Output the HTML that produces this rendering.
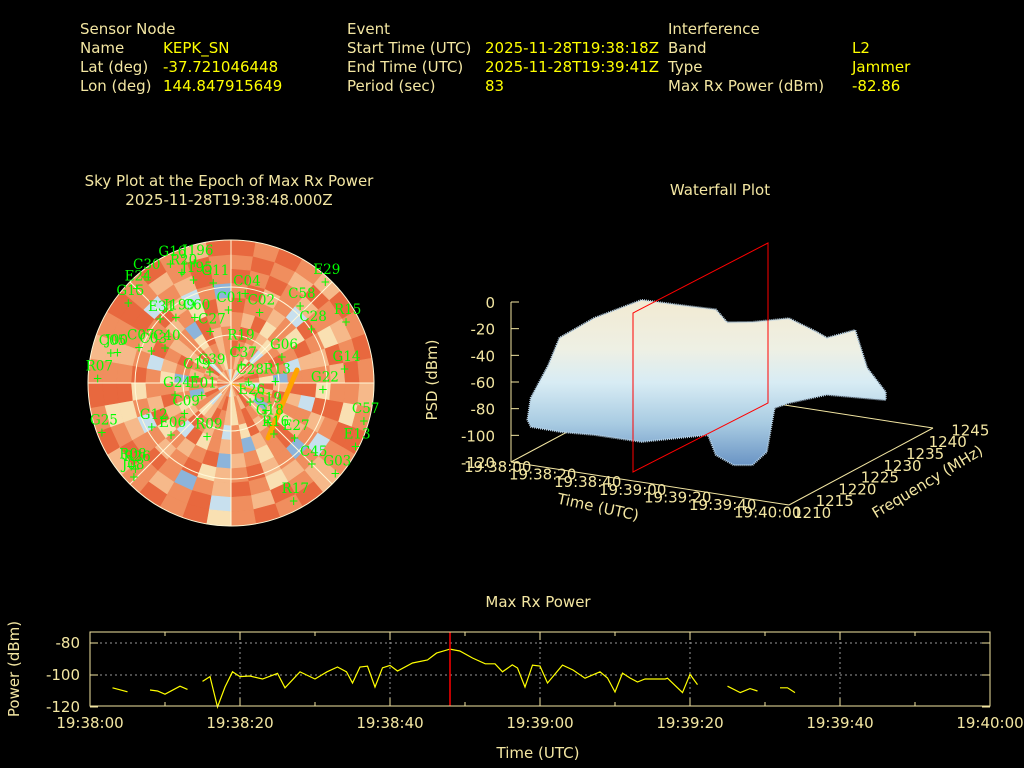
<!DOCTYPE html>
<html><head><meta charset="utf-8"><style>
html,body{margin:0;padding:0;background:#000;width:1024px;height:768px;overflow:hidden}
svg{display:block}
text{font-family:"DejaVu Sans","Liberation Sans",sans-serif}
.lab{fill:#f3e6a2;font-size:15px}
.val{fill:#ffff00;font-size:15px}
.tk{fill:#f3e6a2;font-size:15px}
.sl{fill:#00ff00;font-size:13.5px;font-family:"DejaVu Serif","Liberation Serif",serif}
</style></head><body>
<svg id="svg" width="1024" height="768" viewBox="0 0 1024 768">
<g>
<text class="lab" x="80" y="34">Sensor Node</text>
<text class="lab" x="80" y="53">Name</text>
<text class="val" x="163" y="53">KEPK_SN</text>
<text class="lab" x="80" y="72">Lat (deg)</text>
<text class="val" x="163" y="72">-37.721046448</text>
<text class="lab" x="80" y="91">Lon (deg)</text>
<text class="val" x="163" y="91">144.847915649</text>
<text class="lab" x="347" y="34">Event</text>
<text class="lab" x="347" y="53">Start Time (UTC)</text>
<text class="val" x="485" y="53">2025-11-28T19:38:18Z</text>
<text class="lab" x="347" y="72">End Time (UTC)</text>
<text class="val" x="485" y="72">2025-11-28T19:39:41Z</text>
<text class="lab" x="347" y="91">Period (sec)</text>
<text class="val" x="485" y="91">83</text>
<text class="lab" x="668" y="34">Interference</text>
<text class="lab" x="668" y="53">Band</text>
<text class="val" x="852" y="53">L2</text>
<text class="lab" x="668" y="72">Type</text>
<text class="val" x="852" y="72">Jammer</text>
<text class="lab" x="668" y="91">Max Rx Power (dBm)</text>
<text class="val" x="852" y="91">-82.86</text>
</g>
<text class="tk" x="229" y="186" text-anchor="middle">Sky Plot at the Epoch of Max Rx Power</text>
<text class="tk" x="229" y="205" text-anchor="middle">2025-11-28T19:38:48.000Z</text>
<text class="tk" x="720" y="195" text-anchor="middle">Waterfall Plot</text>
<text class="tk" x="538" y="607" text-anchor="middle">Max Rx Power</text>
<g id="sky"></g>
<g id="wf"></g>
<g id="pw"></g>
</svg>
<script>
// ---- power chart data ----
const powerTimes = [3,5,null,8,9,10,12,13,null,15,16,17,18,19,20,21.3,23,25,26,28,30,31.6,33,34.2,35,36,37,38,39,40,41,43,45,46.2,48,49.3,51,52.7,54,55,56.3,57,58,59,60,61,63,64.4,66,68,69,70,71,72,73,74,76.7,77,79,80,81,null,85,86.7,88,89,null,92,93,94];
const powerValues = [-108,-110.5,null,-109.4,-110,-112,-107,-109,null,-104,-101,-120,-107.5,-98,-101,-100.6,-102.5,-99,-108,-98,-102.5,-98,-95,-98,-105,-95,-94.5,-107.5,-95.5,-94,-97.5,-92.5,-90.6,-86.3,-83.8,-85,-89.4,-93,-93,-98,-93.7,-95.6,-107.5,-93.8,-94.4,-105,-93.8,-96.9,-102,-98,-101.9,-110.6,-98.8,-101.9,-104.4,-102.5,-102.5,-102,-111,-99.6,-106,null,-107,-111,-108.5,-110,null,-108,-108,-111];
const xTickLabels = ["19:38:00","19:38:20","19:38:40","19:39:00","19:39:20","19:39:40","19:40:00"];
const yTickValues = [-80,-100,-120];
const maxEpoch = 48;
// ---- sky plot data (colour class per cell, inner ring first, 36 azimuth bins) ----
const skyRings = [
"213412011213210123411212410121132124",
"121302101421310213201241021312041231",
"012141213021521013210231251021302121",
"101231015201212031412102312510213021",
"120312141021301251213041201321215012",
"011213021041201312501213021140121302",
"102140121302151201230121413012102415",
"010121302101412310215101230121041201",
"101201210130121021401210130121012101",
"010120101210120101301012010121010120"];
const satLabels = ["G16","J196","R20","J195","C30","E29","E24","G15","G11","C60","C01","C04","C02","C58","R15","E31","J199","C27","C28","C03","C07","C40","J00","C05","R19","G06","G14","R07","C39","C37","C28","R13","G22","C19","G24","E01","E26","G19","C09","G12","G18","E06","R09","R16","E27","G25","C57","E13","R26","J08","R08","C45","G03","R17"];
const satAz = [-27,-17,-24,-20,-39,43,-45,-52,-10,-29,-2,9,22,42,62,-48,-40,-22,56,-68,-69,-62,-75,-76,13,63,83,-88,-62,30,87,88,94,-80,-102,-113,135,128,-123,-119,137,-131,-156,140,131,-111,106,117,-132,-134,-130,135,131,152];
const satEl = [6,11,14,21,4,3,6,8,26,43,44,33,42,25,8,30,36,55,29,36,28,43,16,12,67,54,18,6,75,77,79,62,32,67,54,70,73,62,55,33,56,40,53,48,37,3,3,2,9,5,8,18,3,6];
// ---- waterfall data ----
const psdTicks = [0,-20,-40,-60,-80,-100,-120];
const wfTimeLabels = ["19:38:00","19:38:20","19:38:40","19:39:00","19:39:20","19:39:40","19:40:00"];
const freqTicks = [1210,1215,1220,1225,1230,1235,1240,1245];
// surface outline vertices: time (s), frequency (MHz), PSD (dBm)
const outlineTime = [0,0,5.5,10.3,4.8,25.3,41.1,57.4,62.2,73.1,88.9,100.9,120,120,120,120,120,120,120,113.8,110.4,104.2,96.1,88.4,85.1,56.4,35.9,21.5,8.6];
const outlineFreq = [1214,1214.8,1216,1216,1227.5,1227.5,1227.5,1227.5,1227.5,1227.5,1227.5,1227.5,1219.2,1226.1,1229,1233.5,1233.5,1219.2,1210,1210,1210,1210,1210,1210,1210,1210,1210,1210,1210];
const outlinePSD = [-95,-80,-55.6,-34,-39.6,-20.5,-19.9,-19.1,-27.4,-24.2,-17.2,-24.2,-9.8,-15.3,-48.5,-74,-80,-52.5,-43.5,-48.9,-82.8,-94.3,-96.5,-91,-76.9,-89.8,-90,-91.7,-91.4];

const NS='http://www.w3.org/2000/svg';
function mk(tag,attrs,parent,txt){const e=document.createElementNS(NS,tag);for(const k in attrs)e.setAttribute(k,attrs[k]);if(txt!==undefined)e.textContent=txt;parent.appendChild(e);return e;}

// ===== power chart =====
(function(){
const g=document.getElementById('pw');
const X0=90,X1=990,Y0=632,Y1=706;
const xs=t=>X0+(t/120)*(X1-X0);
const ys=v=>675-(v+100)*1.6;
for(const v of [-80,-100]){const l=mk('line',{x1:X0,x2:X1,y1:ys(v),y2:ys(v),stroke:'#999',"stroke-dasharray":'2,3',"stroke-width":1},g);}
xTickLabels.forEach((s,i)=>{const x=xs(i*20);
 if(i>0&&i<6){const l=mk('line',{x1:x,x2:x,y1:Y0,y2:Y1,stroke:'#999',"stroke-dasharray":'2,3'},g);}
 const t=mk('text',{x:x,y:728,class:'tk',"text-anchor":'middle'},g,s);});
for(let k=0;k<=12;k++){const x=xs(k*10),L=k%2?4:8;mk('line',{x1:x,x2:x,y1:Y0,y2:Y0+L,stroke:'#f3e6a2'},g);mk('line',{x1:x,x2:x,y1:Y1,y2:Y1-L,stroke:'#f3e6a2'},g);}
yTickValues.forEach(v=>{const t=mk('text',{x:80,y:ys(v)+5,class:'tk',"text-anchor":'end'},g,String(v));
 mk('line',{x1:X0,x2:X0+8,y1:ys(v),y2:ys(v),stroke:'#f3e6a2'},g);mk('line',{x1:X1,x2:X1-8,y1:ys(v),y2:ys(v),stroke:'#f3e6a2'},g);});
let d='',pen=false;
powerTimes.forEach((t,i)=>{if(t===null){pen=false;return;}d+=(pen?'L':'M')+xs(t).toFixed(1)+' '+ys(powerValues[i]).toFixed(1)+' ';pen=true;});
const p=mk('path',{d:d,fill:'none',stroke:'#ffff00',"stroke-width":1.2},g);
const r=mk('line',{x1:xs(maxEpoch),x2:xs(maxEpoch),y1:Y0,y2:Y1,stroke:'#ff0000',"stroke-width":1.5},g);
const f=mk('rect',{x:X0,y:Y0,width:X1-X0,height:Y1-Y0,fill:'none',stroke:'#f3e6a2',"stroke-width":1},g);
const xt=mk('text',{x:538,y:758,class:'tk',"text-anchor":'middle'},g,'Time (UTC)');
const yt=mk('text',{x:19,y:669,class:'tk',"text-anchor":'middle',transform:'rotate(-90 19 669)'},g,'Power (dBm)');
})();

// ===== sky plot =====
(function(){
const g=document.getElementById('sky');
const CX=231,CY=383,R=143;
const cols=['#e8683e','#f08e5e','#f6b98a','#f9e0b2','#c8e0ee','#8cb4da','#3a62aa'];
const nR=skyRings.length;
skyRings.forEach((row,ri)=>{const r0=R*ri/nR,r1=R*(ri+1)/nR;
 for(let a=0;a<36;a++){const a0=(a*10-90)*Math.PI/180,a1=((a+1)*10-90)*Math.PI/180;
  const p=[[r0,a0],[r1,a0],[r1,a1],[r0,a1]].map(([r,t])=>(CX+r*Math.cos(t)).toFixed(1)+','+(CY+r*Math.sin(t)).toFixed(1)).join(' ');
  const c=mk('polygon',{points:p,fill:cols[+row[a]],stroke:cols[+row[a]],"stroke-width":0.6},g);
  
  }});
for(const rr of [48,96,143]){const c=mk('circle',{cx:CX,cy:CY,r:rr,fill:'none',stroke:'#fff8d8',"stroke-width":1},g);}
for(let k=0;k<8;k++){const t=k*Math.PI/4;const l=mk('line',{x1:CX,y1:CY,x2:CX+R*Math.cos(t),y2:CY+R*Math.sin(t),stroke:'#fff8d8',"stroke-width":1},g);}
const o=mk('line',{x1:297,y1:370,x2:268,y2:438,stroke:'#ffa500',"stroke-width":5,"stroke-linecap":'round'},g);
mk('line',{x1:232,y1:384,x2:272,y2:395,stroke:'#ffa500',"stroke-width":1},g);
satLabels.forEach((s,i)=>{const rr=R*(90-satEl[i])/90,t=(satAz[i]-90)*Math.PI/180;const x=CX+rr*Math.cos(t),y=CY+rr*Math.sin(t);
 const m=mk('text',{x:x,y:y+4,fill:'#00ff00',"font-size":12,"text-anchor":'middle'},g,'+');
 const t2=mk('text',{x:x-12,y:y-8,class:'sl'},g,s);});
})();

// ===== waterfall =====
(function(){
const g=document.getElementById('wf');
const proj=(t,f,z)=>[511+(t/120)*278+((f-1210)/35)*144, 462+(t/120)*43-((f-1210)/35)*77-(z+120)*160/120];
mk('line',{x1:655,y1:385,x2:933,y2:428,stroke:'#f3e6a2'},g);
mk('line',{x1:511,y1:462,x2:655,y2:385,stroke:'#f3e6a2'},g);
const defs=mk('defs',{},g);const gr=mk('linearGradient',{id:'wg',x1:0,y1:0,x2:0,y2:1},defs);
mk('stop',{offset:'0',"stop-color":'#f2ead2'},gr);mk('stop',{offset:'0.3',"stop-color":'#eef0e4'},gr);mk('stop',{offset:'0.5',"stop-color":'#d8ecf4'},gr);mk('stop',{offset:'0.75',"stop-color":'#a8cbe2'},gr);mk('stop',{offset:'1',"stop-color":'#6a94c4'},gr);
const pts=outlineTime.map((t,i)=>proj(t,outlineFreq[i],outlinePSD[i]).map(v=>v.toFixed(1)).join(',')).join(' ');
const s=mk('polygon',{points:pts,fill:'url(#wg)',stroke:'#b8d2e6',"stroke-width":2,"stroke-dasharray":'1,1',"stroke-linejoin":'round'},g);

mk('line',{x1:511,y1:302,x2:511,y2:462,stroke:'#f3e6a2'},g);
psdTicks.forEach(v=>{const yy=proj(0,1210,v)[1];mk('line',{x1:511,y1:yy,x2:519,y2:yy,stroke:'#f3e6a2'},g);
 const t=mk('text',{x:495,y:yy+6,class:'tk',"text-anchor":'end'},g,String(v));});
mk('line',{x1:511,y1:462,x2:789,y2:505,stroke:'#f3e6a2'},g);
mk('line',{x1:789,y1:505,x2:933,y2:428,stroke:'#f3e6a2'},g);
wfTimeLabels.forEach((s2,i)=>{const t=mk('text',{x:464+i*45,y:472+i*7.6,class:'tk'},g,s2);});
freqTicks.forEach((f,i)=>{const t=mk('text',{x:793+i*22.6,y:518-i*11.8,class:'tk'},g,String(f));});
const tt=mk('text',{x:597,y:512,class:'tk',"text-anchor":'middle',transform:'rotate(12 597 512)'},g,'Time (UTC)');
const ft=mk('text',{x:930,y:486,class:'tk',"text-anchor":'middle',transform:'rotate(-31 930 486)'},g,'Frequency (MHz)');
const pt=mk('text',{x:437,y:380,class:'tk',"text-anchor":'middle',transform:'rotate(-90 437 380)'},g,'PSD (dBm)');
mk('line',{x1:633,y1:313,x2:633,y2:440,stroke:'#3a4a60',"stroke-width":1},g);
const rf=mk('polygon',{points:'633,472 633,313 768,243 768,403',fill:'none',stroke:'#ff0000',"stroke-width":1},g);
})();
</script>
</body></html>
